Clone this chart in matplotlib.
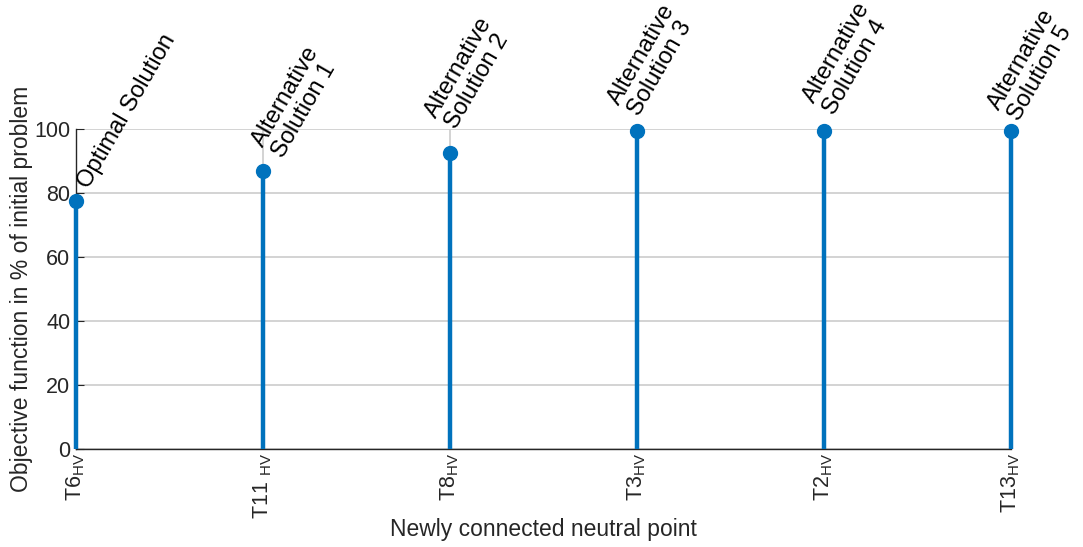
import matplotlib
matplotlib.use("Agg")
import matplotlib.pyplot as plt
from matplotlib.transforms import offset_copy

# Candidate neutral points and the resulting objective value (% of initial problem)
neutral_points = ["T6$_{\\mathregular{HV}}$", "T11 $_{\\mathregular{HV}}$", "T8$_{\\mathregular{HV}}$",
                  "T3$_{\\mathregular{HV}}$", "T2$_{\\mathregular{HV}}$", "T13$_{\\mathregular{HV}}$"]
objective_pct = [77.5, 87.0, 92.5, 99.5, 99.5, 99.5]
solution_labels = ["Optimal Solution",
                   "Alternative\nSolution 1", "Alternative\nSolution 2",
                   "Alternative\nSolution 3", "Alternative\nSolution 4",
                   "Alternative\nSolution 5"]
y_ticks = [0, 20, 40, 60, 80, 100]

# label offsets from each marker, in points (x right, y up)
label_offsets = [(9.0, 8.5), (13.5, 8.5), (3.5, 16.5), (1.0, 10.0), (6.5, 11.0), (5.0, 6.5)]

plt.rcParams["font.family"] = ["Liberation Sans", "DejaVu Sans"]
plt.rcParams["mathtext.fontset"] = "custom"
plt.rcParams["mathtext.rm"] = "Liberation Sans"
plt.rcParams["mathtext.it"] = "Liberation Sans"

text_color = "#262626"
stem_color = "#0072BD"

fig = plt.figure(figsize=(10.83, 5.47), dpi=100)
ax = fig.add_axes([0.0702, 0.1792, 0.8633, 0.585])

xs = list(range(1, len(objective_pct) + 1))
for x, v in zip(xs, objective_pct):
    ax.plot([x, x], [0, v], color=stem_color, lw=3.2, solid_capstyle="butt", zorder=3, clip_on=False)
ax.plot(xs, objective_pct, "o", color=stem_color, markersize=10, zorder=4, clip_on=False)

for x, v, lab, (dx, dy) in zip(xs, objective_pct, solution_labels, label_offsets):
    tr = offset_copy(ax.transData, fig=fig, x=dx, y=dy, units="points")
    ax.text(x, v, lab, transform=tr, rotation=60, rotation_mode="anchor",
            ha="left", va="baseline", fontsize=17, color="black",
            linespacing=1.05, clip_on=False)

ax.set_xlim(1, len(objective_pct))
ax.set_ylim(0, 100)
ax.set_yticks(y_ticks)
ax.set_xticks(xs)
ax.set_xticklabels(neutral_points, rotation=90, fontsize=15.5, color=text_color)
ax.tick_params(axis="y", labelsize=15.5, labelcolor=text_color, direction="in",
               length=6, width=0.8, color=text_color, pad=4)
ax.tick_params(axis="x", direction="in", length=0, pad=3)

ax.grid(True, color="#d0d0d0", lw=1.3, zorder=0)
ax.set_axisbelow(True)
for side in ("top", "right"):
    ax.spines[side].set_visible(False)
for side in ("left", "bottom"):
    ax.spines[side].set_color(text_color)
    ax.spines[side].set_linewidth(1.0)

ax.set_ylabel("Objective function in % of initial problem", fontsize=16.5, color=text_color)
ax.yaxis.set_label_coords(-0.046, 0.5)
ax.set_xlabel("Newly connected neutral point", fontsize=16.5, color=text_color)
ax.xaxis.set_label_coords(0.5, -0.215)

fig.savefig("out.png", dpi=100)
